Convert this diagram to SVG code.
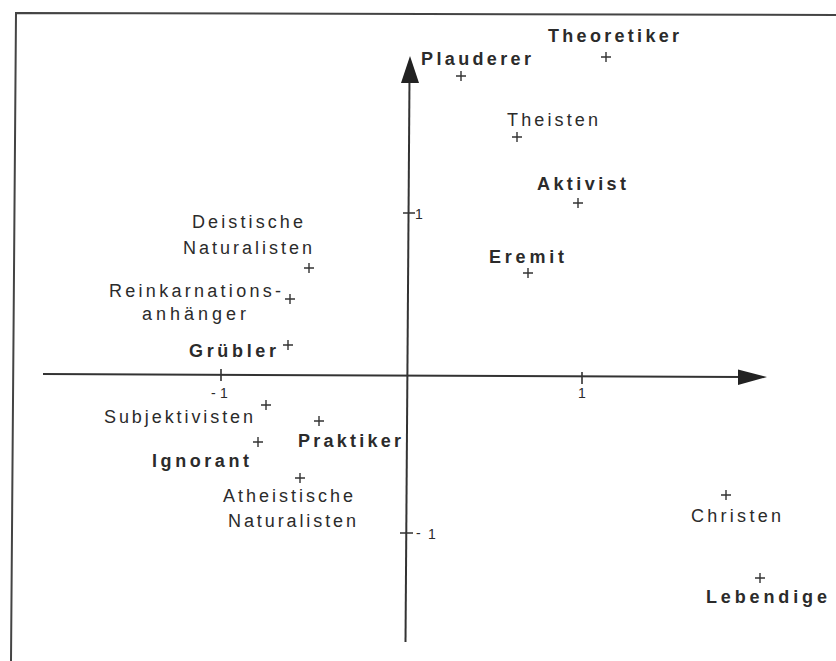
<svg xmlns="http://www.w3.org/2000/svg" width="836" height="661" viewBox="0 0 836 661">
  <style>
    .frame { fill: none; stroke: #444; stroke-width: 2; }
    .axis { fill: none; stroke: #333; stroke-width: 2; }
    .tick { fill: none; stroke: #333; stroke-width: 1.6; }
    .head { fill: #222; stroke: none; }
    .pt { fill: none; stroke: #333; stroke-width: 1.4; }
    text { font-family: "Liberation Sans", Arial, sans-serif; fill: #2b2b2b; }
    .lbl { font-size: 18px; }
    .b { font-weight: bold; }
    .num { font-size: 14px; }
  </style>
  <defs>
    <path id="plus" class="pt" d="M-5,0H5M0,-5V5"/>
  </defs>
  <rect width="836" height="661" fill="#fff"/>

  <!-- outer frame (open at right and bottom) -->
  <path class="frame" d="M11,661 L16,13 L836,15"/>

  <!-- coordinate axes -->
  <g id="axes">
    <path class="axis" d="M43,374 L742,377"/>
    <polygon class="head" points="738,369.5 767,377 738,385"/>
    <path class="axis" d="M409.5,78 L405.5,642"/>
    <polygon class="head" points="410,56 419,83 401,83"/>
    <!-- ticks -->
    <path class="tick" d="M221,369 V381 M582,372 V384 M403,213 H415 M400,533 H413"/>
    <text class="num" x="211" y="398">-</text>
    <text class="num" x="220" y="398">1</text>
    <text class="num" x="578" y="398">1</text>
    <text class="num" x="415" y="219">1</text>
    <text class="num" x="416" y="538">-</text>
    <text class="num" x="428" y="539">1</text>
  </g>

  <g id="plauderer">
    <use href="#plus" x="461" y="76"/>
    <text class="lbl b" x="421" y="65" textLength="110">Plauderer</text>
  </g>
  <g id="theoretiker">
    <use href="#plus" x="606" y="57"/>
    <text class="lbl b" x="548" y="42" textLength="131">Theoretiker</text>
  </g>
  <g id="theisten">
    <use href="#plus" x="517" y="137"/>
    <text class="lbl" x="507" y="126" textLength="91">Theisten</text>
  </g>
  <g id="aktivist">
    <use href="#plus" x="578" y="203"/>
    <text class="lbl b" x="537" y="190" textLength="89">Aktivist</text>
  </g>
  <g id="eremit">
    <use href="#plus" x="528" y="273"/>
    <text class="lbl b" x="489" y="263" textLength="75">Eremit</text>
  </g>
  <g id="deistische-naturalisten">
    <use href="#plus" x="309" y="268"/>
    <text class="lbl" x="192" y="228" textLength="111">Deistische</text>
    <text class="lbl" x="183" y="254" textLength="129">Naturalisten</text>
  </g>
  <g id="reinkarnationsanhaenger">
    <use href="#plus" x="290" y="299"/>
    <text class="lbl" x="109" y="297" textLength="172">Reinkarnations-</text>
    <text class="lbl" x="142" y="320" textLength="104">anhänger</text>
  </g>
  <g id="gruebler">
    <use href="#plus" x="288" y="345"/>
    <text class="lbl b" x="189" y="357" textLength="87">Grübler</text>
  </g>
  <g id="subjektivisten">
    <use href="#plus" x="266" y="405"/>
    <text class="lbl" x="104" y="423" textLength="149">Subjektivisten</text>
  </g>
  <g id="praktiker">
    <use href="#plus" x="319" y="421"/>
    <text class="lbl b" x="298" y="447" textLength="103">Praktiker</text>
  </g>
  <g id="ignorant">
    <use href="#plus" x="258" y="442"/>
    <text class="lbl b" x="152" y="467" textLength="97">Ignorant</text>
  </g>
  <g id="atheistische-naturalisten">
    <use href="#plus" x="300" y="478"/>
    <text class="lbl" x="223" y="502" textLength="130">Atheistische</text>
    <text class="lbl" x="228" y="527" textLength="128">Naturalisten</text>
  </g>
  <g id="christen">
    <use href="#plus" x="726" y="495"/>
    <text class="lbl" x="691" y="522" textLength="90">Christen</text>
  </g>
  <g id="lebendige">
    <use href="#plus" x="760" y="578"/>
    <text class="lbl b" x="706" y="603" textLength="121">Lebendige</text>
  </g>
</svg>
